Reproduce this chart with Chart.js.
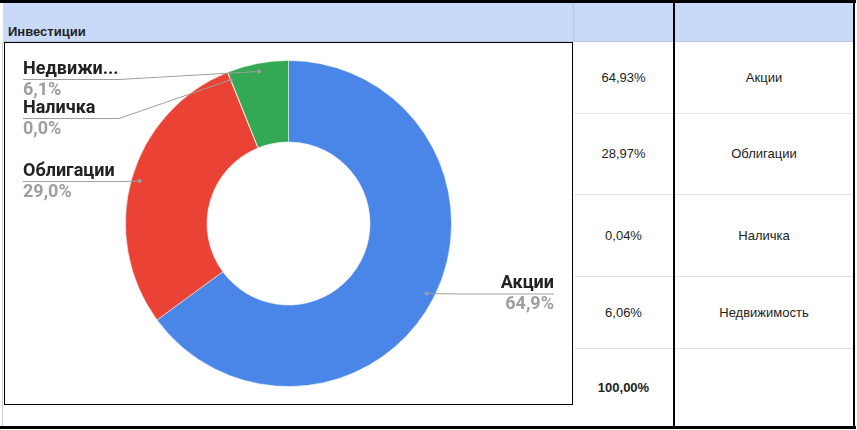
<!DOCTYPE html>
<html lang="ru">
<head>
<meta charset="utf-8">
<script src="https://cdn.jsdelivr.net/npm/chart.js@4.4.0/dist/chart.umd.min.js"></script>
<style>
  body { margin: 0; width: 857px; height: 430px; background: #fff; position: relative; overflow: hidden;
         font-family: Arial, "Liberation Sans", sans-serif; color: #222; }
  .abs { position: absolute; }
  .black { background: #000; }
  .grid { background: #e2e2e2; }
  .cell { position: absolute; display: flex; align-items: center; justify-content: center; font-size: 13px; }
  #chartBox { position: absolute; left: 4px; top: 42px; width: 569px; height: 363px; border: 1px solid #000;
              box-sizing: border-box; background: #fff; }
  #chartBox canvas { position: absolute; left: 0; top: 0; }
</style>
</head>
<body>
<div class="abs" style="left:3px;top:3px;width:850px;height:39px;background:#c9daf8"></div>
<div class="abs" style="left:3px;top:41px;width:850px;height:1px;background:#b9c6de"></div>
<div class="abs" style="left:573px;top:3px;width:1px;height:38px;background:#b9c6de"></div>
<div class="abs" style="left:8px;top:24px;font-weight:bold;font-size:13px;color:#222">Инвестиции</div>
<div class="abs" style="left:2px;top:42px;width:1px;height:386px;background:#d0d0d0"></div>
<div id="rows"></div>
<div id="chartBox"><canvas id="chart" width="567" height="361"></canvas></div>
<div class="abs black" style="left:0;top:0;width:856px;height:3px"></div>
<div class="abs black" style="left:0;top:426px;width:856px;height:3px"></div>
<div class="abs black" style="left:673px;top:0;width:2px;height:429px"></div>
<div class="abs black" style="left:853px;top:0;width:2px;height:429px"></div>
<script>
const categories = ['Акции', 'Облигации', 'Наличка', 'Недвижимость'];
const shares = [64.93, 28.97, 0.04, 6.06];
const sliceColors = ['#4a86e8', '#ea4335', '#fbbc04', '#34a853'];

// spreadsheet rows on the right (tops / bottoms in px)
const rowEdges = [42, 113, 194, 276, 348, 426];

const fmt = (v, d) => v.toFixed(d).replace('.', ',') + '%';

const rows = document.getElementById('rows');
let html = '';
for (let r = 0; r < rowEdges.length - 1; r++) {
  const top = rowEdges[r], h = rowEdges[r + 1] - top;
  const isTotal = r === categories.length;
  const val = isTotal ? fmt(shares.reduce((a, b) => a + b, 0), 2) : fmt(shares[r], 2);
  html += `<div class="cell" style="left:574px;top:${top}px;width:99px;height:${h}px;${isTotal ? 'font-weight:bold' : ''}">${val}</div>`;
  html += `<div class="cell" style="left:675px;top:${top}px;width:178px;height:${h}px">${isTotal ? '' : categories[r]}</div>`;
  if (r < rowEdges.length - 2) {
    html += `<div class="abs grid" style="left:574px;top:${rowEdges[r + 1]}px;width:99px;height:1px"></div>`;
    html += `<div class="abs grid" style="left:675px;top:${rowEdges[r + 1]}px;width:178px;height:1px"></div>`;
  }
}
rows.innerHTML = html;

// outside labels with leader lines, like Google Sheets
const outLabels = {
  id: 'outLabels',
  afterDatasetsDraw(chart) {
    const ctx = chart.ctx;
    const meta = chart.getDatasetMeta(0);
    const total = shares.reduce((a, b) => a + b, 0);
    const leftX = 18, rightX = 549, minY = 36, gap = 39, maxW = 97;

    const items = meta.data.map((arc, i) => {
      const mid = (arc.startAngle + arc.endAngle) / 2;
      const r = arc.outerRadius * 0.95;
      return { i, x: arc.x + Math.cos(mid) * r, y: arc.y + Math.sin(mid) * r, right: Math.cos(mid) > 0 };
    });

    [false, true].forEach(side => {
      const list = items.filter(it => it.right === side).sort((a, b) => a.y - b.y);
      let prev = -Infinity;
      list.forEach(it => {
        it.ly = Math.max(it.y, minY, prev + gap);
        prev = it.ly;
      });
    });

    ctx.save();
    ctx.font = 'bold 18px Roboto';
    items.forEach(it => {
      const lx = it.right ? rightX : leftX;
      const elbow = it.right ? rightX - 96 : leftX + 96;
      ctx.strokeStyle = '#9e9e9e';
      ctx.lineWidth = 1;
      ctx.beginPath();
      ctx.moveTo(lx, it.ly + 0.5);
      ctx.lineTo(elbow, it.ly + 0.5);
      ctx.lineTo(it.x, it.y);
      ctx.stroke();
      ctx.fillStyle = '#9e9e9e';
      ctx.beginPath();
      ctx.arc(it.x, it.y, 2, 0, Math.PI * 2);
      ctx.fill();

      let name = categories[it.i];
      if (ctx.measureText(name).width > maxW) {
        while (name.length && ctx.measureText(name + '...').width > maxW) name = name.slice(0, -1);
        name += '...';
      }
      ctx.textAlign = it.right ? 'right' : 'left';
      ctx.textBaseline = 'alphabetic';
      ctx.fillStyle = '#222';
      ctx.fillText(name, lx, it.ly - 5);
      ctx.fillStyle = '#9e9e9e';
      ctx.fillText(fmt(shares[it.i] / total * 100, 1), lx, it.ly + 16);
    });
    ctx.restore();
  }
};

new Chart(document.getElementById('chart'), {
  type: 'doughnut',
  data: {
    labels: categories,
    datasets: [{
      data: shares,
      backgroundColor: sliceColors,
      borderColor: 'rgba(255,255,255,0.5)',
      borderWidth: 1
    }]
  },
  options: {
    responsive: false,
    animation: false,
    cutout: '50%',
    layout: { padding: { top: 17, bottom: 17 } },
    plugins: { legend: { display: false }, tooltip: { enabled: false } }
  },
  plugins: [outLabels]
});
</script>
</body>
</html>
